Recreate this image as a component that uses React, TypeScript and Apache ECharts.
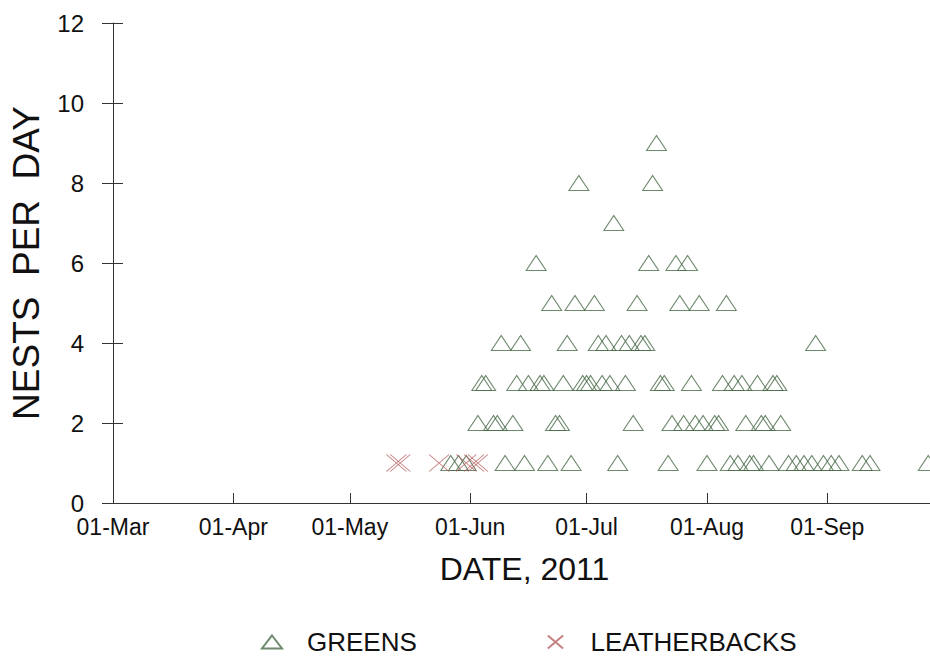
import React, { useEffect, useRef } from "react";
import * as echarts from "echarts";

// ---- data ----
const monthTickDates = [
  "2011-03-01",
  "2011-04-01",
  "2011-05-01",
  "2011-06-01",
  "2011-07-01",
  "2011-08-01",
  "2011-09-01",
];
const monthTickLabels = ["01-Mar", "01-Apr", "01-May", "01-Jun", "01-Jul", "01-Aug", "01-Sep"];
const xRange = ["2011-03-01", "2011-09-29"];
const yRange = [0, 12];
const yStep = 2;

const greens: [string, number][] = [
  ["2011-05-27", 1], ["2011-05-29", 1], ["2011-05-31", 1], ["2011-06-10", 1], ["2011-06-15", 1],
  ["2011-06-21", 1], ["2011-06-27", 1], ["2011-07-09", 1], ["2011-07-22", 1], ["2011-08-01", 1],
  ["2011-08-07", 1], ["2011-08-09", 1], ["2011-08-12", 1], ["2011-08-13", 1], ["2011-08-17", 1],
  ["2011-08-22", 1], ["2011-08-24", 1], ["2011-08-26", 1], ["2011-08-28", 1], ["2011-08-31", 1],
  ["2011-09-02", 1], ["2011-09-04", 1], ["2011-09-10", 1], ["2011-09-12", 1], ["2011-09-27", 1],
  ["2011-06-03", 2], ["2011-06-07", 2], ["2011-06-08", 2], ["2011-06-12", 2], ["2011-06-23", 2],
  ["2011-06-24", 2], ["2011-07-13", 2], ["2011-07-23", 2], ["2011-07-26", 2], ["2011-07-29", 2],
  ["2011-07-31", 2], ["2011-08-03", 2], ["2011-08-04", 2], ["2011-08-11", 2], ["2011-08-15", 2],
  ["2011-08-16", 2], ["2011-08-20", 2],
  ["2011-06-04", 3], ["2011-06-05", 3], ["2011-06-13", 3], ["2011-06-16", 3], ["2011-06-19", 3],
  ["2011-06-20", 3], ["2011-06-25", 3], ["2011-06-30", 3], ["2011-07-01", 3], ["2011-07-02", 3],
  ["2011-07-05", 3], ["2011-07-07", 3], ["2011-07-11", 3], ["2011-07-20", 3], ["2011-07-21", 3],
  ["2011-07-28", 3], ["2011-08-05", 3], ["2011-08-08", 3], ["2011-08-10", 3], ["2011-08-14", 3],
  ["2011-08-18", 3], ["2011-08-19", 3],
  ["2011-06-09", 4], ["2011-06-14", 4], ["2011-06-26", 4], ["2011-07-04", 4], ["2011-07-06", 4],
  ["2011-07-10", 4], ["2011-07-12", 4], ["2011-07-15", 4], ["2011-07-16", 4], ["2011-08-29", 4],
  ["2011-06-22", 5], ["2011-06-28", 5], ["2011-07-03", 5], ["2011-07-14", 5], ["2011-07-25", 5],
  ["2011-07-30", 5], ["2011-08-06", 5],
  ["2011-06-18", 6], ["2011-07-17", 6], ["2011-07-24", 6], ["2011-07-27", 6],
  ["2011-07-08", 7],
  ["2011-06-29", 8], ["2011-07-18", 8],
  ["2011-07-19", 9],
];

const leatherbacks: [string, number][] = [
  ["2011-05-13", 1],
  ["2011-05-14", 1],
  ["2011-05-24", 1],
  ["2011-05-31", 1],
  ["2011-06-02", 1],
  ["2011-06-03", 1],
];

// ---- helpers ----
const BASE = Date.UTC(2011, 2, 1);
const toDay = (s: string) => {
  const [y, m, d] = s.split("-").map(Number);
  return Math.round((Date.UTC(y, m - 1, d) - BASE) / 86400000);
};

const FONT = "Liberation Sans, Arial, sans-serif";
const AXIS_COLOR = "#333333";
const GREEN_STROKE = "#4a6b4a";
const LB_STROKE = "#b86262";
const CROSS = "path://M0,0L20,17M20,0L0,17";

export default function App() {
  const ref = useRef<HTMLDivElement>(null);

  useEffect(() => {
    if (!ref.current) return;
    const chart = echarts.init(ref.current, undefined, { renderer: "svg" });
    const tickDays = monthTickDates.map(toDay);
    const labelMap: Record<number, string> = {};
    tickDays.forEach((d, i) => (labelMap[d] = monthTickLabels[i]));
    const xMin = toDay(xRange[0]);
    const xMax = toDay(xRange[1]);

    const option: any = {
      animation: false,
      backgroundColor: "#ffffff",
      grid: { left: 113, top: 23, bottom: 153, right: 14, show: false },
      legend: {
        left: 256,
        top: 624,
        itemWidth: 20,
        itemHeight: 13,
        itemGap: 130,
        textStyle: { fontSize: 26, color: "#111", fontFamily: FONT, padding: [0, 0, 0, 20] },
        data: [
          { name: "GREENS", icon: "triangle" },
          { name: "LEATHERBACKS", icon: CROSS },
        ],
      },
      xAxis: [
        {
          type: "value",
          min: xMin,
          max: xMax,
          position: "bottom",
          name: "DATE, 2011",
          nameLocation: "middle",
          nameGap: 50,
          nameTextStyle: { fontSize: 32, color: "#111", fontFamily: FONT },
          axisLine: { show: true, lineStyle: { color: AXIS_COLOR, width: 1 } },
          axisTick: {
            show: true,
            inside: true,
            length: 10,
            customValues: tickDays,
            lineStyle: { color: AXIS_COLOR },
          },
          axisLabel: {
            show: true,
            customValues: tickDays,
            margin: 12,
            fontSize: 23,
            color: "#111",
            fontFamily: FONT,
            formatter: (v: number) => labelMap[v] ?? "",
          },
          splitLine: { show: false },
        },
        {
          type: "value",
          min: xMin,
          max: xMax,
          position: "top",
          axisLine: { show: true, lineStyle: { color: AXIS_COLOR, width: 1 } },
          axisTick: { show: false },
          axisLabel: { show: false },
          splitLine: { show: false },
        },
      ],
      yAxis: [
        {
          type: "value",
          min: yRange[0],
          max: yRange[1],
          interval: yStep,
          position: "left",
          name: "NESTS  PER  DAY",
          nameLocation: "middle",
          nameGap: 68,
          nameTextStyle: { fontSize: 37, color: "#111", fontFamily: FONT },
          axisLine: { show: true, lineStyle: { color: AXIS_COLOR, width: 1 } },
          axisTick: { show: true, inside: false, length: 11, lineStyle: { color: AXIS_COLOR } },
          axisLabel: { margin: 29, fontSize: 24, color: "#111", fontFamily: FONT },
          splitLine: { show: false },
        },
        {
          type: "value",
          min: yRange[0],
          max: yRange[1],
          interval: yStep,
          position: "left",
          offset: 0,
          axisLine: { show: false },
          axisTick: { show: true, inside: true, length: 10, lineStyle: { color: AXIS_COLOR } },
          axisLabel: { show: false },
          splitLine: { show: false },
        },
      ],
      series: [
        {
          name: "GREENS",
          type: "scatter",
          xAxisIndex: 0,
          yAxisIndex: 0,
          symbol: "triangle",
          symbolSize: [20, 15],
          itemStyle: { color: "rgba(255,255,255,0)", borderColor: GREEN_STROKE, borderWidth: 1 },
          data: greens.map(([d, v]) => [toDay(d), v]),
        },
        {
          name: "LEATHERBACKS",
          type: "scatter",
          xAxisIndex: 0,
          yAxisIndex: 0,
          symbol: CROSS,
          symbolSize: [20, 17],
          itemStyle: { color: "rgba(255,255,255,0)", borderColor: LB_STROKE, borderWidth: 1 },
          data: leatherbacks.map(([d, v]) => [toDay(d), v]),
        },
      ],
    };
    chart.setOption(option);
    return () => chart.dispose();
  }, []);

  return (
    <div
      style={{
        position: "fixed",
        left: 0,
        top: 0,
        width: 930,
        height: 656,
        overflow: "hidden",
        background: "#fff",
      }}
    >
      <div ref={ref} style={{ width: 950, height: 656 }} />
    </div>
  );
}
